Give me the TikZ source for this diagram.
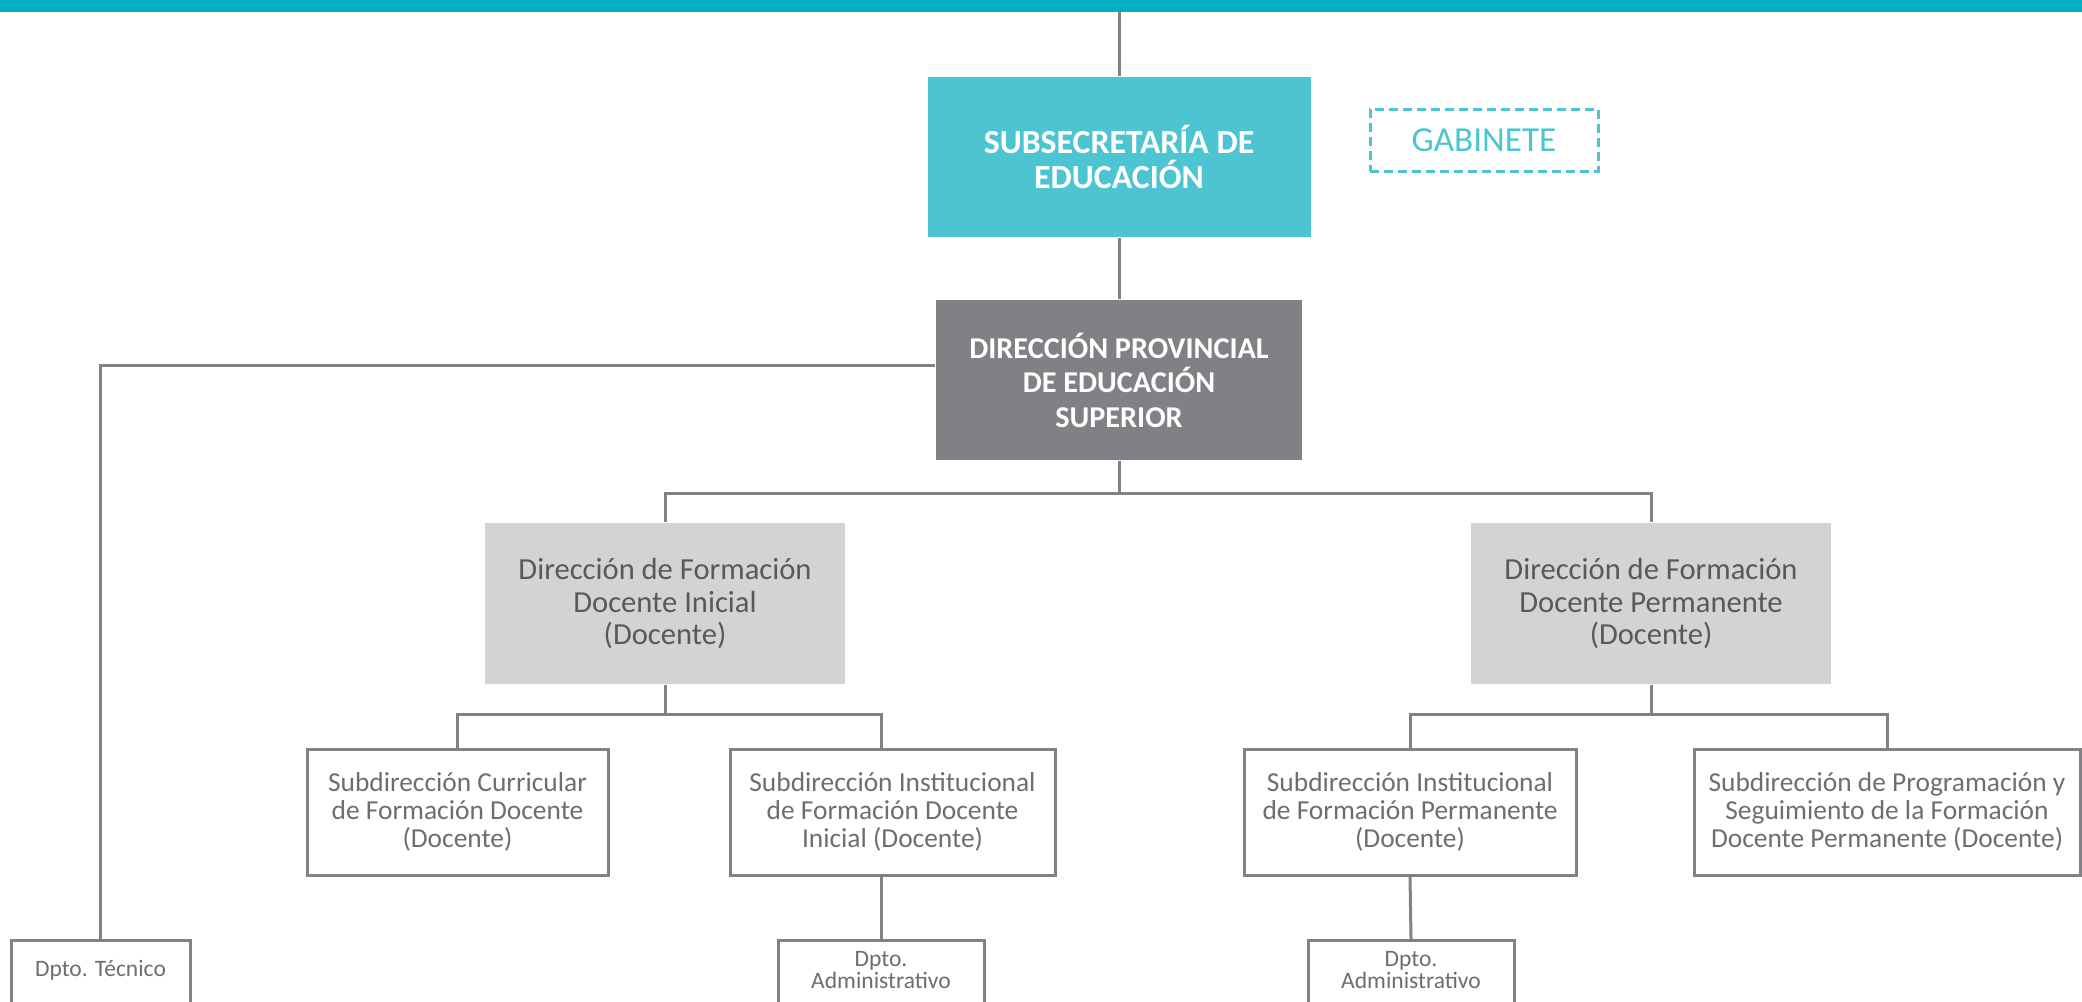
\documentclass[tikz,border=0pt]{standalone}
\usepackage{fontspec}
\setmainfont{Carlito}
\usepackage{tikz}
\definecolor{barteal}{HTML}{00AFC3}
\definecolor{subteal}{HTML}{4DC4D2}
\definecolor{provgray}{HTML}{808184}
\definecolor{dirgray}{HTML}{D1D3D4}
\definecolor{linegray}{HTML}{808285}
\definecolor{dirtext}{HTML}{58595B}
\definecolor{subtext}{HTML}{6D6E71}
\tikzset{wire/.style = {draw = linegray, line width = 0.03cm}}
\tikzset{headbox/.style = {fill = subteal, text = white, align = center, inner sep = 0, font = \bfseries\fontsize{9.6}{10.2}\selectfont}}
\tikzset{gabbox/.style = {draw = subteal, line width = 0.03cm, dash pattern = on 0.09cm off 0.05cm, text = subteal, inner sep = 0, font = \fontsize{10}{12}\selectfont}}
\tikzset{provbox/.style = {fill = provgray, text = white, align = center, inner sep = 0, font = \bfseries\fontsize{8.6}{9.8}\selectfont}}
\tikzset{dirbox/.style = {fill = dirgray, text = dirtext, align = center, inner sep = 0, minimum width = 3.6cm, minimum height = 1.61cm, font = \fontsize{8.7}{9.3}\selectfont}}
\tikzset{subbox/.style = {draw = linegray, line width = 0.03cm, fill = white, text = subtext, align = center, inner sep = 0, minimum height = 1.26cm, font = \fontsize{7.8}{8.0}\selectfont}}
\tikzset{dptobox/.style = {draw = linegray, line width = 0.03cm, fill = white, anchor = north, inner sep = 0, minimum height = 1.0cm}}
\tikzset{dptotext/.style = {text = subtext, align = center, inner sep = 0, font = \fontsize{6.7}{6.3}\selectfont}}

\begin{document}
\begin{tikzpicture}
    \useasboundingbox (0, 0) rectangle (20.82, -10.01);
    \clip (0, 0) rectangle (20.82, -10.01);
    \fill [barteal] (0, 0) rectangle (20.82, -0.12);
    \coordinate (top) at (11.19, -0.12);

    \node [headbox, minimum width = 3.83cm, minimum height = 1.6cm] (subsec) at (11.19, -1.57) {SUBSECRETARÍA DE\\EDUCACIÓN};
    \node [gabbox, minimum width = 2.28cm, minimum height = 0.62cm] (gab) at (14.84, -1.40) {GABINETE};
    \node [provbox, minimum width = 3.66cm, minimum height = 1.6cm] (dp) at (11.19, -3.80) {DIRECCIÓN PROVINCIAL\\DE EDUCACIÓN\\SUPERIOR};

    \node [dirbox] (fdi) at (6.65, -6.035) {Dirección de Formación\\Docente Inicial\\(Docente)};
    \node [dirbox] (fdp) at (16.51, -6.035) {Dirección de Formación\\Docente Permanente\\(Docente)};

    \node [subbox, minimum width = 3.01cm] (scu) at (4.575, -8.12) {Subdirección Curricular\\de Formación Docente\\(Docente)};
    \node [subbox, minimum width = 3.25cm] (sif) at (8.925, -8.12) {Subdirección Institucional\\de Formación Docente\\Inicial (Docente)};
    \node [subbox, minimum width = 3.32cm] (sip) at (14.10, -8.12) {Subdirección Institucional\\de Formación Permanente\\(Docente)};
    \node [subbox, minimum width = 3.86cm] (spr) at (18.87, -8.12) {Subdirección de Programación y\\Seguimiento de la Formación\\Docente Permanente (Docente)};

    \node [dptobox, minimum width = 1.79cm] (dtec) at (1.005, -9.39) {};
    \node [dptotext] (dtect) at (1.005, -9.70) {Dpto. Técnico};
    \node [dptobox, minimum width = 2.06cm] (dal) at (8.81, -9.39) {};
    \node [dptotext] (dalt) at (8.81, -9.70) {Dpto.\\Administrativo};
    \node [dptobox, minimum width = 2.06cm] (dar) at (14.11, -9.39) {};
    \node [dptotext] (dart) at (14.11, -9.70) {Dpto.\\Administrativo};

    \draw [wire] (top) -- (subsec);
    \draw [wire] (subsec) -- (dp);
    \draw [wire] ([yshift = 0.15cm] dp.west) -| (dtec.north);
    \draw [wire] (dp.south) -- ++(0, -0.33) -| (fdi.north);
    \draw [wire] (dp.south) -- ++(0, -0.33) -| (fdp.north);
    \draw [wire] (fdi.south) -- ++(0, -0.30) -| (scu.north);
    \draw [wire] (fdi.south) -- ++(0, -0.30) -| (sif.north -| dal.north);
    \draw [wire] (fdp.south) -- ++(0, -0.30) -| (sip.north);
    \draw [wire] (fdp.south) -- ++(0, -0.30) -| (spr.north);
    \draw [wire] (sif.south -| dal.north) -- (dal.north);
    \draw [wire] (sip.south) -- (dar.north);
  \end{tikzpicture}
\end{document}
